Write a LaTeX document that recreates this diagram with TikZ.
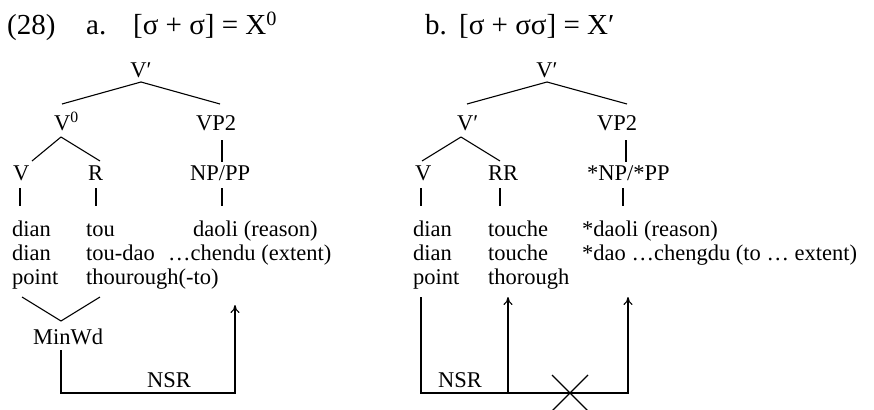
\documentclass[tikz,border=0pt]{standalone}
\usepackage{fontspec}
\setmainfont{Liberation Serif}
\usetikzlibrary{arrows.meta,calc}
\begin{document}
\begin{tikzpicture}[x=1pt,y=-1pt,
  lbl/.style={font=\fontsize{22.5}{26}\selectfont, inner sep=0pt, anchor=base},
  lw/.style={font=\fontsize{22.5}{26}\selectfont, inner sep=0pt, anchor=base west},
  ttl/.style={font=\fontsize{29}{33}\selectfont, inner sep=0pt, anchor=base west},
  br/.style={line width=1.1pt},
  arr/.style={line width=1.1pt, -{To[length=8pt,width=9pt]}}]
\useasboundingbox (0,0) rectangle (874,409);
% title
\node[ttl] (t28) at (7,35) {(28)};
\node[ttl] (ta) at (86,35) {a.};
\node[ttl] (tfa) at (133,35) {[σ + σ] = X\textsuperscript{0}};
\node[ttl] (tb) at (425,35) {b.};
\node[ttl] (tfb) at (459,35) {[σ + σσ] = X′};
% ---------- tree a ----------
\node[lbl] (aTop) at (141,78) {V′};
\node[lw] (aV0) at (54,130) {V\textsuperscript{0}};
\node[lw] (aVP) at (196,130) {VP2};
\node[lw] (aV) at (13,180) {V};
\node[lw] (aR) at (88,180) {R};
\node[lw] (aNP) at (190,180) {NP/PP};
\node[lw] (aD1) at (12,236) {dian};
\node[lw] (aT1) at (86,236) {tou};
\node[lw] (aN1) at (193,236) {daoli (reason)};
\node[lw] (aD2) at (12,260) {dian};
\node[lw] (aT2) at (86,260) {tou-dao};
\node[lw] (aN2) at (168,260) {…chendu (extent)};
\node[lw] (aD3) at (12,284) {point};
\node[lw] (aT3) at (86,284) {thourough(-to)};
\node[lw] (aMW) at (33,344) {MinWd};
\node[lbl] (aNSR) at (169,387) {NSR};
\coordinate (aA1) at (141,82);
\coordinate (aA2) at (61,137);
\coordinate (aA3) at (61,321);
\draw[br] (aA1) -- (62,104);
\draw[br] (aA1) -- (220,104);
\draw[br] (aA2) -- (32,161);
\draw[br] (aA2) -- (100,161);
\draw[br] (222,140) -- (222,162);
\draw[br] (20,188) -- (20,206);
\draw[br] (96,188) -- (96,206);
\draw[br] (222,188) -- (222,206);
\draw[br] (22,297) -- (aA3) -- (100,297);
\draw[arr] (61,350) -- (61,393) -- (235,393) -- (235,305);
% ---------- tree b ----------
\node[lbl] (bTop) at (547,78) {V′};
\node[lw] (bV1) at (457,130) {V′};
\node[lw] (bVP) at (597,130) {VP2};
\node[lw] (bV) at (415,180) {V};
\node[lw] (bRR) at (488,180) {RR};
\node[lw] (bNP) at (587,180) {*NP/*PP};
\node[lw] (bD1) at (413,236) {dian};
\node[lw] (bT1) at (488,236) {touche};
\node[lw] (bN1) at (582,236) {*daoli (reason)};
\node[lw] (bD2) at (413,260) {dian};
\node[lw] (bT2) at (488,260) {touche};
\node[lw] (bN2) at (582,260) {*dao …chengdu (to … extent)};
\node[lw] (bD3) at (413,284) {point};
\node[lw] (bT3) at (488,284) {thorough};
\node[lbl] (bNSR) at (460,387) {NSR};
\coordinate (bA1) at (547,82);
\coordinate (bA2) at (461,137);
\coordinate (bX) at (570,393);
\draw[br] (bA1) -- (467,104);
\draw[br] (bA1) -- (627,104);
\draw[br] (bA2) -- (422,161);
\draw[br] (bA2) -- (500,161);
\draw[br] (626,140) -- (626,162);
\draw[br] (421,188) -- (421,206);
\draw[br] (500,188) -- (500,206);
\draw[br] (623,188) -- (623,206);
\draw[arr] (421,297) -- (421,393) -- (628,393) -- (628,297);
\draw[arr] (508,393) -- (508,297);
\draw[br] ($(bX)+(-18,-18)$) -- ($(bX)+(18,18)$);
\draw[br] ($(bX)+(18,-18)$) -- ($(bX)+(-18,18)$);
\end{tikzpicture}
\end{document}
